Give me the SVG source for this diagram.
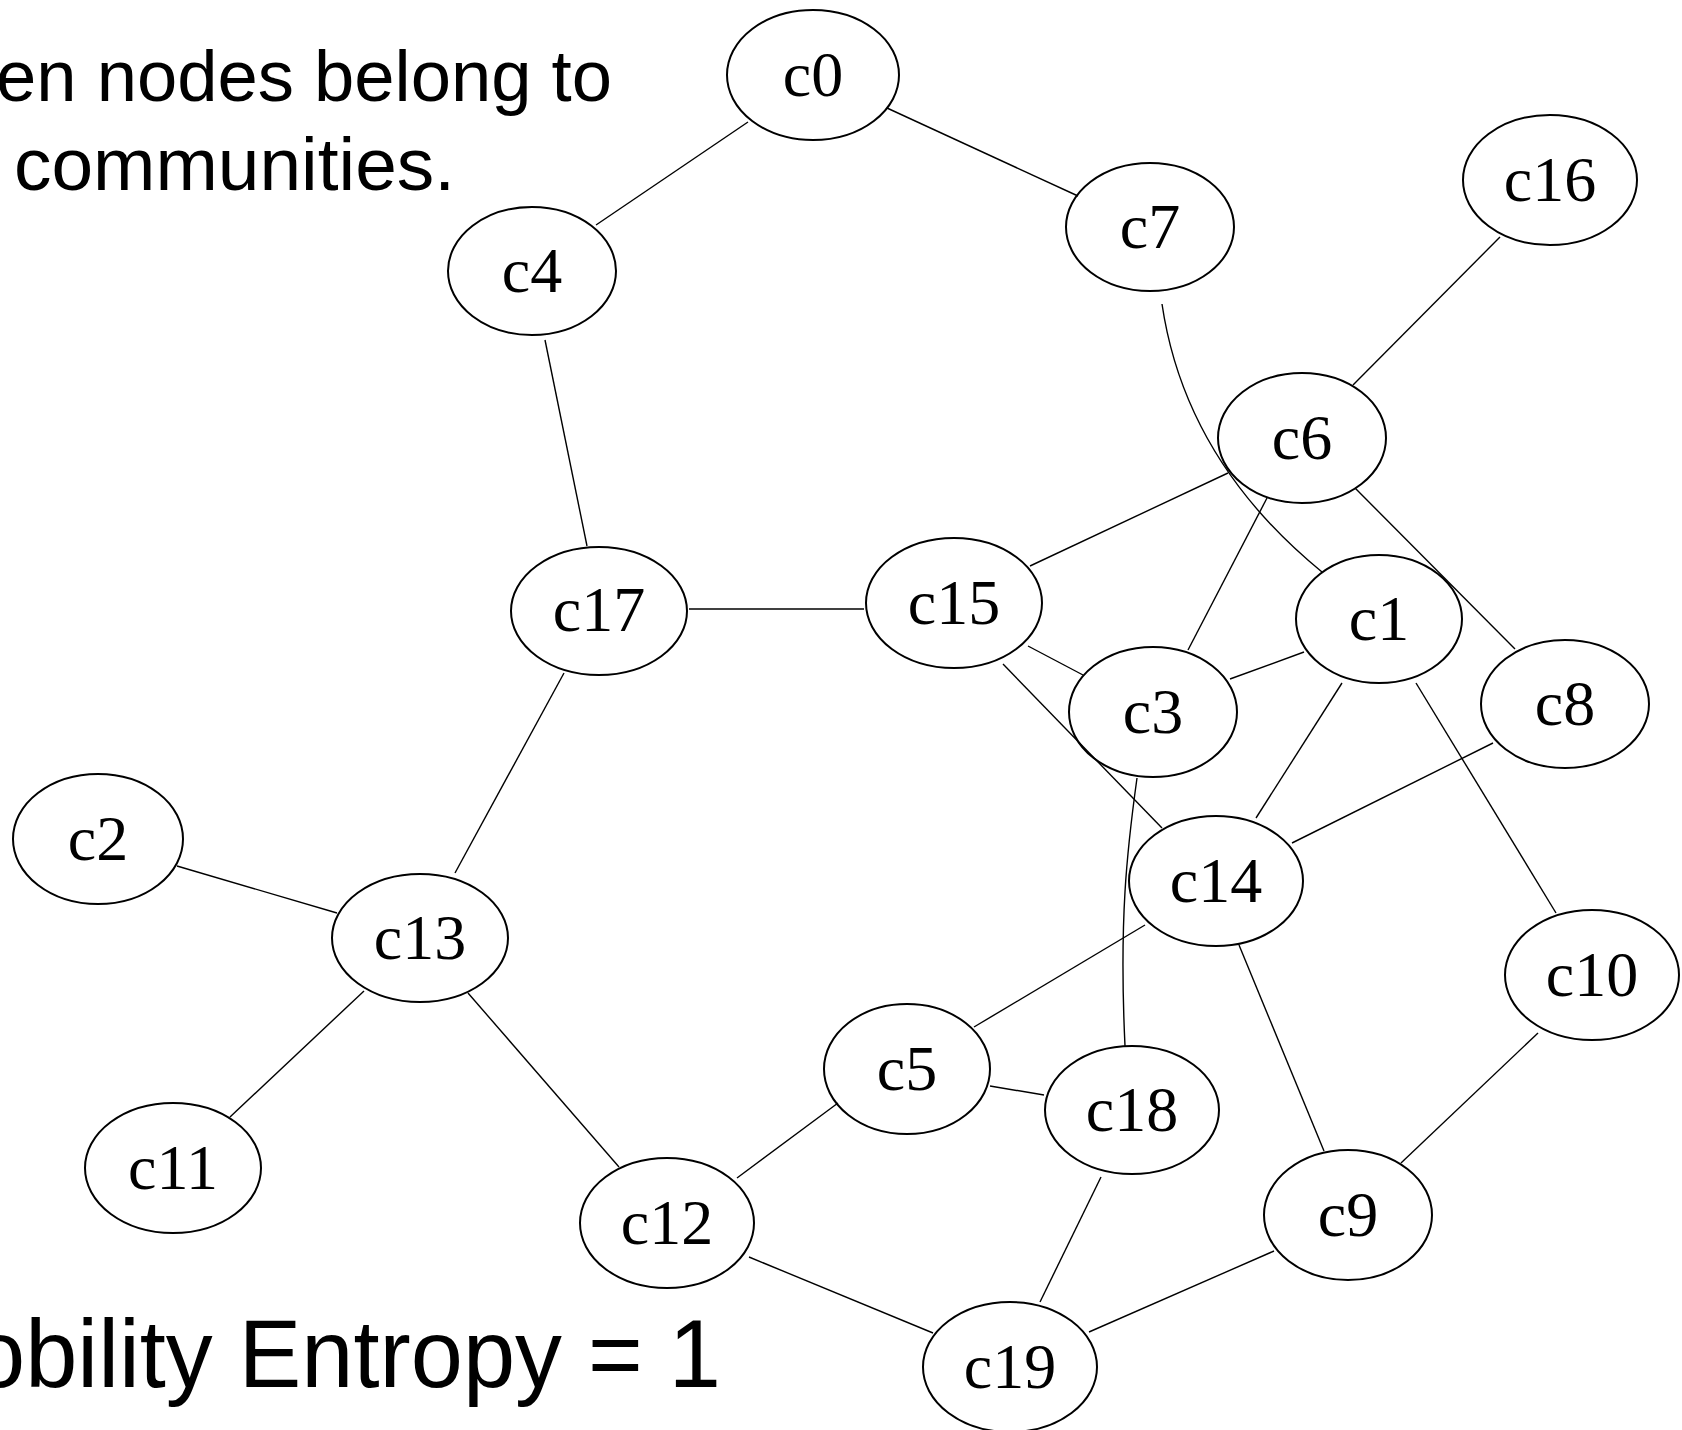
<svg xmlns="http://www.w3.org/2000/svg" width="1682" height="1430" viewBox="0 0 1682 1430">
  <style>
    .bg { fill: #ffffff; }
    .node ellipse { fill: none; stroke: #000000; stroke-width: 2; }
    .node text { font-family: "Liberation Serif", "Times New Roman", serif; font-size: 64px; fill: #000000; text-anchor: middle; }
    .edges line, .edges path { stroke: #000000; stroke-width: 1.4; fill: none; }
    .caption { font-family: "Liberation Sans", Arial, sans-serif; fill: #000000; }
  </style>
  <rect class="bg" x="0" y="0" width="1682" height="1430"/>

  <!-- captions -->
  <text class="caption" x="-4" y="101" font-size="73" textLength="616" lengthAdjust="spacingAndGlyphs">en nodes belong to</text>
  <text class="caption" x="14" y="190" font-size="74" textLength="441" lengthAdjust="spacingAndGlyphs">communities.</text>
  <text class="caption" x="-27" y="1387" font-size="96" textLength="748" lengthAdjust="spacingAndGlyphs">obility Entropy = 1</text>

  <!-- connectors -->
  <g id="edges" class="edges">
    <line x1="748" y1="122" x2="596" y2="225"/>   <!-- c0-c4 -->
    <line x1="887" y1="108" x2="1078" y2="196"/>  <!-- c0-c7 -->
    <line x1="545" y1="340" x2="587" y2="546"/>   <!-- c4-c17 -->
    <line x1="689" y1="609" x2="864" y2="609"/>   <!-- c17-c15 -->
    <line x1="564" y1="673" x2="455" y2="873"/>   <!-- c17-c13 -->
    <line x1="1500" y1="237" x2="1353" y2="385"/> <!-- c16-c6 -->
    <line x1="1228" y1="473" x2="1030" y2="566"/> <!-- c6-c15 -->
    <line x1="1267" y1="498" x2="1188" y2="650"/> <!-- c6-c3 -->
    <line x1="1355" y1="488" x2="1515" y2="649"/> <!-- c6-c8 -->
    <path d="M1162,304 Q1185,460 1322,572"/>      <!-- c7-c1 -->
    <line x1="1028" y1="646" x2="1083" y2="675"/> <!-- c15-c3 -->
    <line x1="1003" y1="664" x2="1162" y2="828"/> <!-- c15-c14 -->
    <line x1="1230" y1="679" x2="1304" y2="652"/> <!-- c3-c1 -->
    <path d="M1137,778 C1127,850 1119,920 1125,1046"/> <!-- c3-c18 -->
    <line x1="1342" y1="683" x2="1256" y2="818"/> <!-- c1-c14 -->
    <line x1="1416" y1="683" x2="1556" y2="913"/> <!-- c1-c10 -->
    <line x1="1493" y1="743" x2="1292" y2="843"/> <!-- c8-c14 -->
    <line x1="177" y1="866" x2="337" y2="913"/>   <!-- c2-c13 -->
    <line x1="364" y1="991" x2="230" y2="1117"/>  <!-- c13-c11 -->
    <line x1="468" y1="993" x2="619" y2="1167"/>  <!-- c13-c12 -->
    <line x1="1145" y1="925" x2="974" y2="1027"/> <!-- c14-c5 -->
    <line x1="1239" y1="945" x2="1324" y2="1151"/> <!-- c14-c9 -->
    <line x1="838" y1="1103" x2="737" y2="1178"/> <!-- c5-c12 -->
    <line x1="990" y1="1086" x2="1044" y2="1095"/> <!-- c5-c18 -->
    <line x1="1101" y1="1177" x2="1040" y2="1302"/> <!-- c18-c19 -->
    <line x1="749" y1="1257" x2="933" y2="1333"/> <!-- c12-c19 -->
    <line x1="1538" y1="1033" x2="1401" y2="1163"/> <!-- c10-c9 -->
    <line x1="1274" y1="1251" x2="1089" y2="1332"/> <!-- c9-c19 -->
  </g>

  <!-- nodes -->
  <g id="c0" class="node"><ellipse cx="813" cy="75" rx="86" ry="65"/><text x="813" y="96">c0</text></g>
  <g id="c4" class="node"><ellipse cx="532" cy="271" rx="84" ry="64"/><text x="532" y="292">c4</text></g>
  <g id="c7" class="node"><ellipse cx="1150" cy="227" rx="84" ry="64"/><text x="1150" y="248">c7</text></g>
  <g id="c16" class="node"><ellipse cx="1550" cy="180" rx="87" ry="65"/><text x="1550" y="201">c16</text></g>
  <g id="c6" class="node"><ellipse cx="1302" cy="438" rx="84" ry="65"/><text x="1302" y="459">c6</text></g>
  <g id="c15" class="node"><ellipse cx="954" cy="603" rx="88" ry="65"/><text x="954" y="624">c15</text></g>
  <g id="c17" class="node"><ellipse cx="599" cy="611" rx="88" ry="64"/><text x="599" y="631">c17</text></g>
  <g id="c1" class="node"><ellipse cx="1379" cy="619" rx="83" ry="64"/><text x="1379" y="640">c1</text></g>
  <g id="c3" class="node"><ellipse cx="1153" cy="712" rx="84" ry="65"/><text x="1153" y="733">c3</text></g>
  <g id="c8" class="node"><ellipse cx="1565" cy="704" rx="84" ry="64"/><text x="1565" y="725">c8</text></g>
  <g id="c2" class="node"><ellipse cx="98" cy="839" rx="85" ry="65"/><text x="98" y="860">c2</text></g>
  <g id="c14" class="node"><ellipse cx="1216" cy="881" rx="87" ry="65"/><text x="1216" y="902">c14</text></g>
  <g id="c13" class="node"><ellipse cx="420" cy="938" rx="88" ry="64"/><text x="420" y="959">c13</text></g>
  <g id="c10" class="node"><ellipse cx="1592" cy="975" rx="87" ry="65"/><text x="1592" y="996">c10</text></g>
  <g id="c5" class="node"><ellipse cx="907" cy="1069" rx="83" ry="65"/><text x="907" y="1090">c5</text></g>
  <g id="c18" class="node"><ellipse cx="1132" cy="1110" rx="87" ry="64"/><text x="1132" y="1131">c18</text></g>
  <g id="c11" class="node"><ellipse cx="173" cy="1168" rx="88" ry="65"/><text x="173" y="1189">c11</text></g>
  <g id="c12" class="node"><ellipse cx="667" cy="1223" rx="87" ry="65"/><text x="667" y="1244">c12</text></g>
  <g id="c9" class="node"><ellipse cx="1348" cy="1215" rx="84" ry="65"/><text x="1348" y="1236">c9</text></g>
  <g id="c19" class="node"><ellipse cx="1010" cy="1367" rx="87" ry="65"/><text x="1010" y="1388">c19</text></g>
</svg>
